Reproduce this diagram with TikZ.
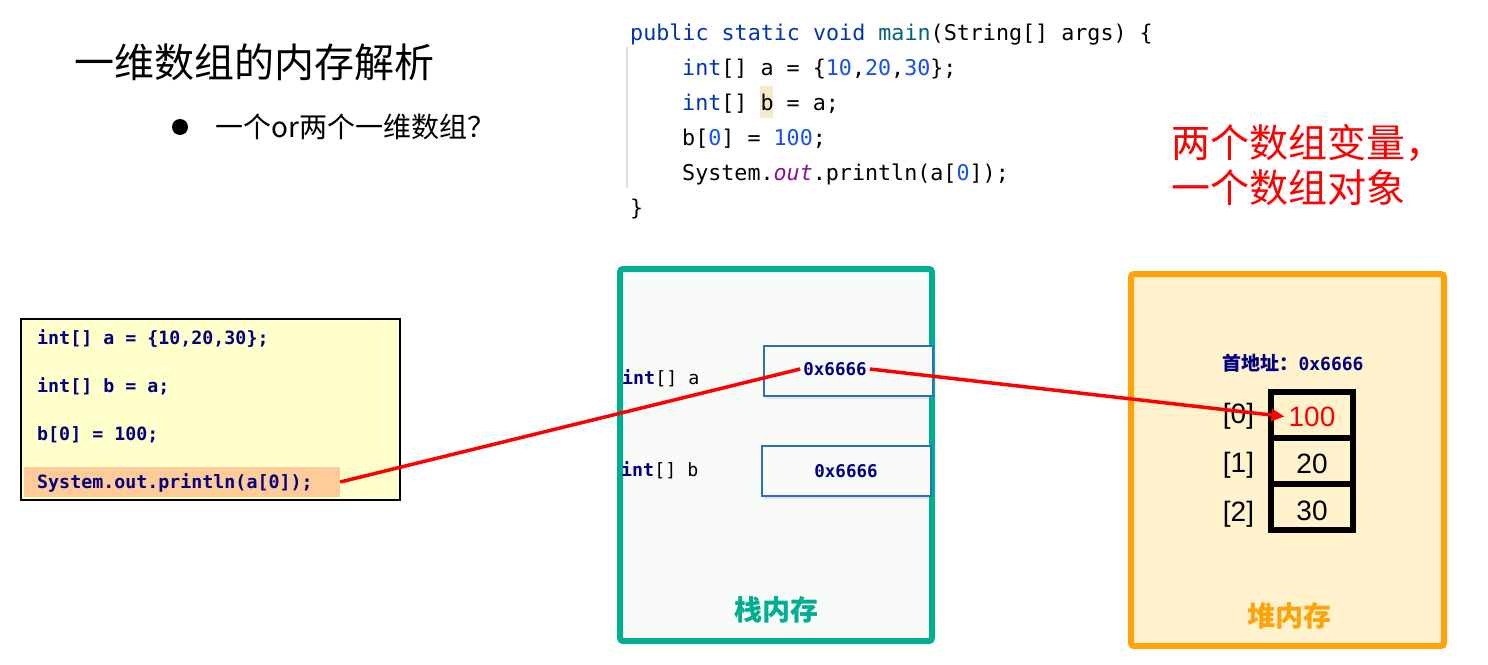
\documentclass[tikz,border=0pt]{standalone}
\usepackage{fontspec}
\usepackage{xcolor}
\newfontfamily\cjk{Noto Sans CJK SC}
\newfontfamily\codefont{DejaVu Sans Mono}
\newfontfamily\arialfont{Liberation Sans}
\usetikzlibrary{positioning, shadows, arrows.meta}

\definecolor{kwblue}{HTML}{0033B3}
\definecolor{fnteal}{HTML}{00627A}
\definecolor{numblue}{HTML}{1750EB}
\definecolor{fieldpurple}{HTML}{871094}
\definecolor{navy}{HTML}{000080}
\definecolor{stackgreen}{HTML}{00AE91}
\definecolor{stackfill}{HTML}{F9FBF9}
\definecolor{heaporange}{HTML}{FFA30A}
\definecolor{heapfill}{HTML}{FFF2CC}
\definecolor{srcfill}{HTML}{FFFFCC}
\definecolor{salmon}{HTML}{FFCC99}
\definecolor{boxblue}{HTML}{2472C0}
\definecolor{markfill}{HTML}{F5EACA}

\tikzset{
  codeline/.style={anchor=base west, inner sep=0pt, font=\codefont\fontsize{21.7}{26}\selectfont},
  srcline/.style={anchor=base west, inner sep=0pt, text=navy, font=\codefont\bfseries\fontsize{18.3}{20}\selectfont},
  varname/.style={anchor=base west, inner sep=0pt, font=\codefont\fontsize{18.3}{20}\selectfont},
  addr/.style={inner sep=3pt, text=navy, font=\codefont\bfseries\fontsize{17.5}{20}\selectfont},
  refbox/.style={draw=boxblue, line width=2pt, fill=stackfill, minimum width=169pt, minimum height=50pt,
    drop shadow={opacity=0.18, shadow xshift=2pt, shadow yshift=-3pt}},
  cell/.style={draw, line width=6pt, minimum width=82pt, minimum height=46pt},
  cellval/.style={inner sep=0pt, font=\arialfont\fontsize{28}{30}\selectfont},
  idx/.style={inner sep=0pt, font=\arialfont\fontsize{28}{30}\selectfont},
  memlabel/.style={font=\cjk\bfseries\fontsize{28}{30}\selectfont},
  pointer/.style={red, line width=3.5pt}
}

\begin{document}
\begin{tikzpicture}[x=1pt, y=-1pt]
  \useasboundingbox (0,0) rectangle (1488,664);

  \node[anchor=west, inner sep=0pt, font=\cjk\fontsize{40}{44}\selectfont] (title) at (74,62) {一维数组的内存解析};
  \node[circle, fill, inner sep=0pt, minimum size=16pt] (dot) at (180,127) {};
  \node[anchor=west, inner sep=0pt, font=\cjk\fontsize{28}{30}\selectfont, right=27pt of dot] (question) {一个or两个一维数组？};

  \draw[gray!25, line width=1.5pt] (627,47) coordinate (g1) -- (627,188) coordinate (g2);
  \node[fill=markfill, inner sep=0pt, minimum width=13pt, minimum height=32pt] (mark) at (766.5,102) {};
  \node[codeline] (l1) at (630,40) {\textcolor{kwblue}{public static void} \textcolor{fnteal}{main}(String[] args) \{};
  \node[codeline] (l2) at (682,75) {\textcolor{kwblue}{int}[] a = \{\textcolor{numblue}{10},\textcolor{numblue}{20},\textcolor{numblue}{30}\};};
  \node[codeline] (l3) at (682,110) {\textcolor{kwblue}{int}[] b = a;};
  \node[codeline] (l4) at (682,145) {b[\textcolor{numblue}{0}] = \textcolor{numblue}{100};};
  \node[codeline] (l5) at (682,180) {System.\textcolor{fieldpurple}{\itshape out}.println(a[\textcolor{numblue}{0}]);};
  \node[codeline] (l6) at (630,215) {\}};

  \node[anchor=west, align=left, inner sep=0pt, text=red, font=\cjk\fontsize{39}{45}\selectfont] (note) at (1171,165.5) {两个数组变量，\\一个数组对象};

  \node[draw, line width=1.6pt, fill=srcfill, minimum width=379pt, minimum height=181pt] (src) at (210.5,409.5) {};
  \node[fill=salmon, inner sep=0pt, minimum width=316pt, minimum height=30pt] (hl) at (182,482) {};
  \node[srcline] (s1) at (37,344) {int[] a = \{10,20,30\};};
  \node[srcline] (s2) at (37,392) {int[] b = a;};
  \node[srcline] (s3) at (37,440) {b[0] = 100;};
  \node[srcline] (s4) at (37,488) {System.out.println(a[0]);};

  \node[draw=stackgreen, line width=6pt, rounded corners=3pt, fill=stackfill, minimum width=312pt, minimum height=372pt] (stack) at (776,455) {};
  \node[memlabel, text=stackgreen] (stacklabel) at (776,610) {栈内存};
  \node[varname] (na) at (622,384) {\textcolor{navy}{\bfseries int}[] a};
  \node[varname] (nb) at (621,476) {\textcolor{navy}{\bfseries int}[] b};
  \node[refbox] (ra) at (848.5,371) {};
  \node[refbox] (rb) at (846.5,470.5) {};
  \node[addr] (ta) at (835,369) {0x6666};
  \node[addr] (tb) at (846,471) {0x6666};

  \node[draw=heaporange, line width=6pt, rounded corners=3pt, fill=heapfill, minimum width=313pt, minimum height=372pt] (heap) at (1287.5,460) {};
  \node[memlabel, text=heaporange] (heaplabel) at (1289,616) {堆内存};
  \node[text=navy, inner sep=0pt] (base) at (1293,363) {{\cjk\bfseries\fontsize{19}{20}\selectfont 首地址：}{\codefont\bfseries\fontsize{18}{20}\selectfont 0x6666}};
  \node[cell] (c0) at (1312,414.5) {};
  \node[cell, below=-6pt of c0] (c1) {};
  \node[cell, below=-6pt of c1] (c2) {};
  \node[cellval, text=red] (v0) at ([yshift=-2pt]c0) {100};
  \node[cellval] (v1) at ([yshift=-3pt]c1) {20};
  \node[cellval] (v2) at ([yshift=-4pt]c2) {30};
  \node[idx] (i0) at (1238.5,416) {[0]};
  \node[idx] (i1) at (1238.5,465) {[1]};
  \node[idx] (i2) at (1238.5,514) {[2]};

  \draw[pointer] (hl.east) -- (ta.west);
  \draw[pointer, -{Triangle[length=13pt, width=12pt]}] (ta.east) -- ([xshift=-4pt]v0.west);
\end{tikzpicture}
\end{document}
